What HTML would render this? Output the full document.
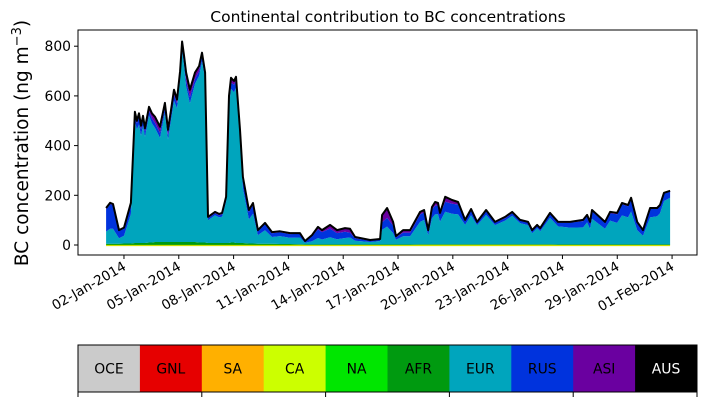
<!DOCTYPE html>
<html><head><meta charset="utf-8">
<style>
body{margin:0;background:#fff;width:707px;height:402px;overflow:hidden;font-family:"Liberation Sans",sans-serif}
svg text{font-family:"DejaVu Sans","Liberation Sans",sans-serif}
</style></head>
<body>
<svg id="chart" width="707" height="402" xmlns="http://www.w3.org/2000/svg">
<text x="388" y="22" text-anchor="middle" font-size="15.5">Continental contribution to BC concentrations</text>
<text transform="translate(28,143) rotate(-90)" text-anchor="middle" font-size="18.5">BC concentration (ng m<tspan dy="-7" font-size="13">−3</tspan><tspan dy="7">)</tspan></text>
<g id="plot"></g>
<g id="legend"></g>
</svg>
<script>
const days=[0.02,0.24,0.40,0.73,1.00,1.38,1.60,1.71,1.82,1.93,2.04,2.15,2.37,2.53,2.70,2.97,3.24,3.41,3.57,3.74,3.90,4.07,4.18,4.29,4.40,4.61,4.89,5.11,5.27,5.44,5.60,5.98,6.20,6.37,6.59,6.75,6.86,7.02,7.13,7.35,7.51,7.84,8.06,8.33,8.72,9.10,9.54,10.09,10.63,10.91,11.29,11.62,11.84,12.28,12.66,13.10,13.37,13.65,14.47,15.02,15.13,15.40,15.73,15.89,16.28,16.66,17.21,17.43,17.65,17.86,18.03,18.19,18.30,18.58,18.96,19.29,19.67,20.00,20.33,20.82,21.31,21.86,22.25,22.68,23.12,23.34,23.61,23.78,24.32,24.76,25.42,26.13,26.35,26.51,26.62,27.33,27.61,27.99,28.26,28.59,28.76,29.09,29.41,29.80,30.18,30.34,30.56,30.89];
const total=[149,170,165,60,70,170,536,500,530,480,520,470,556,530,516,476,572,464,540,625,585,700,819,760,694,625,694,720,774,694,113,133,125,129,194,600,673,660,677,464,274,141,169,60,89,52,55,48,48,16,40,73,60,81,60,68,65,32,20,24,121,149,93,36,60,60,133,141,60,153,173,169,129,194,181,173,101,145,93,141,93,113,133,101,93,60,81,68,129,93,93,101,121,93,141,93,133,129,169,161,190,93,60,149,149,161,210,218];
const rus=[90,100,95,30,30,40,30,25,30,25,25,20,20,20,20,20,20,20,20,25,20,20,20,20,25,25,20,20,20,15,8,8,8,10,15,20,25,30,30,30,35,30,35,15,25,15,15,15,15,5,20,35,30,35,25,25,20,10,5,5,30,35,30,10,15,15,30,30,15,35,35,35,30,40,40,40,15,20,10,15,10,10,10,10,10,10,10,10,15,15,20,25,25,25,30,25,30,35,45,45,50,30,20,35,30,30,30,25];
const asi=[5,5,5,3,3,5,10,10,15,15,15,15,15,20,25,25,20,20,20,20,15,15,15,20,30,30,25,20,15,10,5,5,5,5,5,15,20,15,15,10,10,8,8,5,5,5,4,4,3,2,5,10,8,15,12,15,15,5,3,3,30,40,15,5,10,10,10,10,5,10,15,10,5,20,15,10,5,5,3,5,3,5,5,3,3,3,3,3,5,3,3,5,5,3,5,3,5,5,5,5,5,3,3,3,3,3,3,3];
const afr=[5,5,5,5,6,6,8,8,8,8,8,8,10,10,12,12,12,12,12,12,12,12,12,12,12,12,12,10,10,10,8,8,8,8,8,8,10,10,8,8,8,6,6,5,5,5,4,4,3,2,2,2,2,2,2,2,2,2,2,2,2,2,2,2,2,2,3,3,3,3,3,3,3,3,3,3,3,3,3,3,3,3,3,3,3,3,3,3,3,2,2,2,2,2,2,2,2,2,2,2,2,2,2,2,2,2,2,2];
const yTicks=[0,200,400,600,800];
const xTickDays=[1,4,7,10,13,16,19,22,25,28,31];
const xTickLabels=["02-Jan-2014","05-Jan-2014","08-Jan-2014","11-Jan-2014","14-Jan-2014","17-Jan-2014","20-Jan-2014","23-Jan-2014","26-Jan-2014","29-Jan-2014","01-Feb-2014"];
const regions=["OCE","GNL","SA","CA","NA","AFR","EUR","RUS","ASI","AUS"];
const regionColors=["#cbcbcb","#e60000","#ffb000","#ccff00","#00e600","#009a10","#00a5bd","#0033dd","#6a00a0","#000000"];

const NS="http://www.w3.org/2000/svg";
const L=78,R=697,T=30,B=255;
const X=d=>105.7+d*18.27;
const Y=v=>245-v*0.2485;
const plot=document.getElementById('plot');
function mk(tag,attrs,parent){const e=document.createElementNS(NS,tag);for(const k in attrs)e.setAttribute(k,attrs[k]);parent.appendChild(e);return e;}

const eur=total.map((t,i)=>Math.max(0,t-rus[i]-asi[i]-afr[i]));
const layers=[{n:'afr',v:afr,c:regionColors[5]},{n:'eur',v:eur,c:regionColors[6]},{n:'rus',v:rus,c:regionColors[7]},{n:'asi',v:asi,c:regionColors[8]}];
let base=days.map(()=>0);
layers.forEach(l=>{
  const top=base.map((b,i)=>b+l.v[i]);
  let d='M'+days.map((t,i)=>X(t).toFixed(1)+','+Y(top[i]).toFixed(1)).join('L');
  for(let i=days.length-1;i>=0;i--)d+='L'+X(days[i]).toFixed(1)+','+Y(base[i]).toFixed(1);
  const p=mk('path',{d:d+'Z',fill:l.c},plot);
  
  
  base=top;
});
const bl=mk('line',{x1:X(days[0]),x2:X(days[days.length-1]),y1:Y(0)+0.5,y2:Y(0)+0.5,stroke:'#ccdd00','stroke-width':1.2},plot);


const tl=mk('polyline',{points:days.map((t,i)=>X(t).toFixed(1)+','+Y(total[i]).toFixed(1)).join(' '),fill:'none',stroke:'#000','stroke-width':2,'stroke-linejoin':'round'},plot);



const frame=mk('rect',{x:L,y:T,width:R-L,height:B-T,fill:'none',stroke:'#000','stroke-width':1},plot);


yTicks.forEach(v=>{
  const y=Y(v);
  const tk=mk('line',{x1:L-4,x2:L,y1:y,y2:y,stroke:'#000'},plot);
  
  
  const tx=mk('text',{x:L-7,y:y+5,'text-anchor':'end','font-size':13.9},plot);
  tx.textContent=v;
  
  
});
xTickDays.forEach((d,i)=>{
  const x=X(d);
  const tk=mk('line',{x1:x,x2:x,y1:B,y2:B+4,stroke:'#000'},plot);
  
  
  const tx=mk('text',{transform:`translate(${x+3},${B+14}) rotate(-30)`,'text-anchor':'end','font-size':13.5},plot);
  tx.textContent=xTickLabels[i];
  
  
});

const lg=document.getElementById('legend');
const LT=345,LB=392,bw=(R-L)/regions.length;
regions.forEach((r,i)=>{
  const rc=mk('rect',{x:L+i*bw,y:LT,width:bw+0.5,height:LB-LT,fill:regionColors[i]},lg);
  
  
  const tx=mk('text',{x:L+i*bw+bw/2,y:(LT+LB)/2+5,'text-anchor':'middle','font-size':13.9,fill:r==='AUS'?'#fff':'#000'},lg);
  tx.textContent=r;
  
  
});
const lf=mk('rect',{x:L,y:LT,width:R-L,height:LB-LT,fill:'none',stroke:'#000'},lg);


for(let i=0;i<=5;i++){
  const x=L+i*2*bw;
  const tk=mk('line',{x1:x,x2:x,y1:LB,y2:LB+5,stroke:'#000'},lg);
  
  
}
</script>
</body></html>
